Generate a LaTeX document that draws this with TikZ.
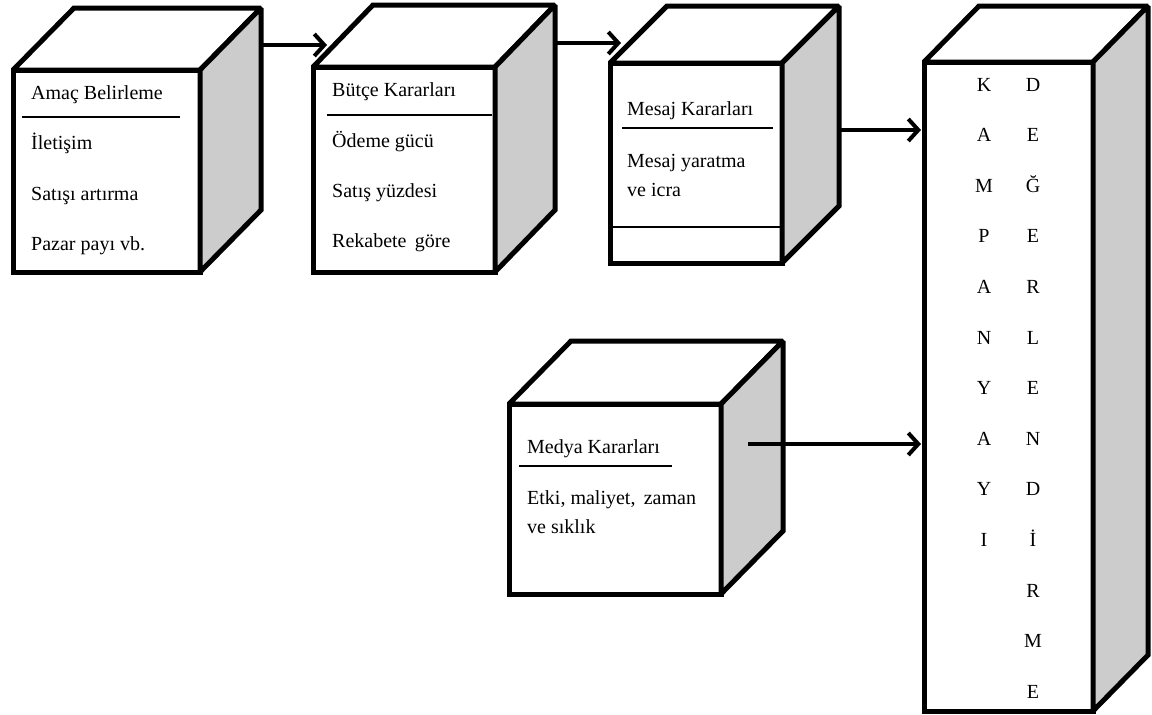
\documentclass[tikz,border=0pt]{standalone}
\usepackage{fontspec}
\setmainfont{Liberation Serif}
\usetikzlibrary{calc,arrows.meta}
\definecolor{sidegray}{gray}{0.8}
\tikzset{
  face/.style={draw=black, line width=5pt, fill=white, line join=miter, miter limit=1.5},
  front/.style={face, rectangle, inner sep=0pt, outer sep=0pt},
  sideface/.style={face, fill=sidegray},
  rule/.style={draw=black, line width=1.5pt},
  lbl/.style={anchor=base west, inner sep=0pt, font=\fontsize{20}{24}\selectfont},
  letter/.style={anchor=base, inner sep=0pt, font=\fontsize{20}{24}\selectfont},
  arr/.style={line width=4pt, -{Straight Barb[length=10pt,width=22pt]}},
}
% top and right faces of a cube whose front face is node #1, depth (#2,#3)
\newcommand{\cubefaces}[3]{%
  \draw[face] (#1.north west) -- ++(#2,#3) -- ($(#1.north east)+(#2,#3)$) -- (#1.north east) -- cycle;
  \draw[sideface] (#1.north east) -- ++(#2,#3) -- ($(#1.south east)+(#2,#3)$) -- (#1.south east) -- cycle;
}
\begin{document}
\begin{tikzpicture}[x=1pt,y=-1pt]
\useasboundingbox (0,0) rectangle (1152,715);

% front faces
\node[front, minimum width=187, minimum height=202] (amac) at (106.5,171) {};
\node[front, minimum width=182, minimum height=205] (butce) at (404,169.5) {};
\node[front, minimum width=172, minimum height=200] (mesaj) at (696,163) {};
\node[front, minimum width=212, minimum height=190] (medya) at (615,499) {};
\node[front, minimum width=169, minimum height=649] (kamp) at (1008.5,386.5) {};

\cubefaces{amac}{61}{-62}
\cubefaces{butce}{60}{-62}
\cubefaces{mesaj}{57}{-57}
\cubefaces{medya}{62}{-63}
\cubefaces{kamp}{55}{-56}

% Amaç Belirleme
\node[lbl] (t1) at (31,99) {Amaç Belirleme};
\draw[rule] (22,117) -- (180,117);
\node[lbl] (t1a) at (31,149) {İletişim};
\node[lbl] (t1b) at (31,200) {Satışı artırma};
\node[lbl] (t1c) at (31,250) {Pazar payı vb.};

% Bütçe Kararları
\node[lbl] (t2) at (332,96) {Bütçe Kararları};
\draw[rule] (327,115) -- (492,115);
\node[lbl] (t2a) at (332,147) {Ödeme gücü};
\node[lbl] (t2b) at (332,197) {Satış yüzdesi};
\node[lbl] (t2c) at (332,247) {Rekabete\, göre};

% Mesaj Kararları
\node[lbl] (t3) at (627,115) {Mesaj Kararları};
\draw[rule] (622,128) -- (773,128);
\node[lbl] (t3a) at (627,167) {Mesaj yaratma};
\node[lbl] (t3b) at (627,196) {ve icra};
\draw[rule] (mesaj.west |- 0,227) -- (mesaj.east |- 0,227);

% Medya Kararları
\node[lbl] (t4) at (527,453) {Medya Kararları};
\draw[rule] (519,466) -- (672,466);
\node[lbl] (t4a) at (527,504) {Etki, maliyet,\, zaman};
\node[lbl] (t4b) at (527,533) {ve sıklık};

% vertical lettering
\foreach \ch [count=\i] in {K,A,M,P,A,N,Y,A,Y,I}
  \node[letter] (ka\i) at (984,{91+50.6*(\i-1)}) {\ch};
\foreach \ch [count=\i] in {D,E,Ğ,E,R,L,E,N,D,İ,R,M,E}
  \node[letter] (de\i) at (1033,{91+50.6*(\i-1)}) {\ch};

% connectors
\coordinate (o1) at (261,45);
\coordinate (i1) at (327,45);
\coordinate (o2) at (556,43);
\coordinate (i2) at (621,43);
\coordinate (o3) at (839,130);
\coordinate (o4) at (748,444);
\draw[arr] (o1) -- (i1);
\draw[arr] (o2) -- (i2);
\draw[arr, shorten >=3pt] (o3) -- (o3 -| kamp.west);
\draw[arr, shorten >=3pt] (o4) -- (o4 -| kamp.west);
\end{tikzpicture}
\end{document}
